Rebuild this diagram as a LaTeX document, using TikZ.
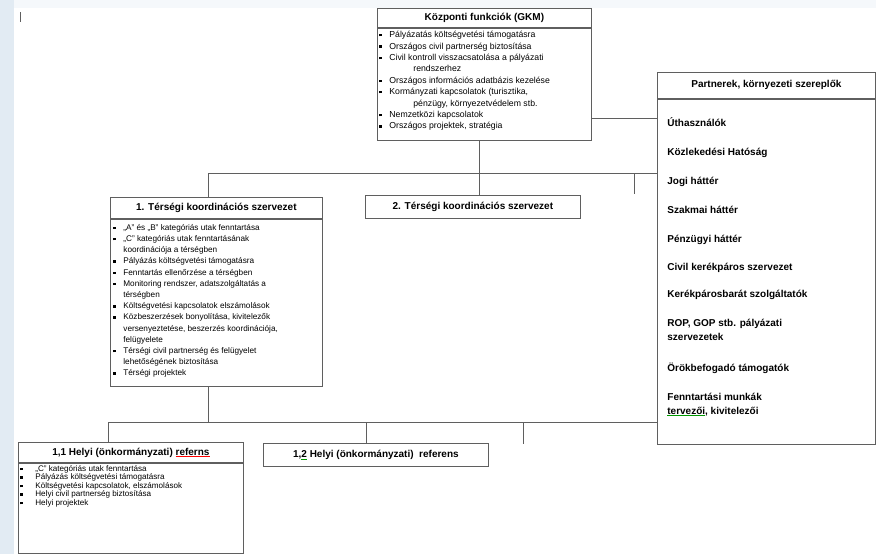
\documentclass[tikz,border=0pt]{standalone}
\usepackage{fontspec}
\setmainfont{Liberation Sans}
\usetikzlibrary{positioning}

\definecolor{linec}{RGB}{95,95,95}
\definecolor{paleblue}{RGB}{226,235,243}

% bullet and continuation indent for the lists
\newcommand{\bl}{\makebox[10pt][l]{\rule[0.25ex]{2.4pt}{2.4pt}}}
\newcommand{\cont}{\hspace*{10pt}}
% spell-check underline
\newcommand{\wavy}[2]{\setbox0\hbox{#2}\rlap{\color{#1}\rule[-2pt]{\wd0}{0.6pt}}\box0\relax}

\begin{document}
\begin{tikzpicture}[x=1pt, y=-1pt, line width=0.8pt,
    ttl/.style={draw=linec, anchor=north west, inner sep=0pt, font=\bfseries\fontsize{10}{12}\selectfont},
    bodybox/.style={draw=linec, inner sep=0pt},
    lst/.style={inner sep=0pt, align=left, anchor=north west, font=\fontsize{8.3}{11.5}\selectfont},
    items/.style={inner sep=0pt, align=left, anchor=north west, font=\bfseries\fontsize{10}{14}\selectfont},
    conn/.style={draw=linec}]
    \useasboundingbox (0,0) rectangle (876,554);

    % faded slide background
    \fill[paleblue] (0,0) rectangle (14,554);
    \fill[paleblue!35] (14,0) rectangle (876,8);
    \draw[linec, line width=1pt] (20,12) -- (20,22);

    % Kozponti funkciok
    \node[ttl, minimum width=214, minimum height=19] at (377,8) (gkmT) {Központi funkciók (GKM)};
    \node[bodybox, minimum width=214, minimum height=112, below right=0pt and 0pt of gkmT.south west] (gkmB) {};
    \node[lst, font=\fontsize{8.7}{11.4}\selectfont, below right=3pt and 2pt of gkmB.north west] (gkmL) {%
        \bl Pályázatás költségvetési támogatásra\\
        \bl Országos civil partnerség biztosítása\\
        \bl Civil kontroll visszacsatolása a pályázati\\
        \cont\hspace*{24pt}rendszerhez\\
        \bl Országos információs adatbázis kezelése\\
        \bl Kormányzati kapcsolatok (turisztika,\\
        \cont\hspace*{24pt}pénzügy, környezetvédelem stb.\\
        \bl Nemzetközi kapcsolatok\\
        \bl Országos projektek, stratégia};

    % Partnerek
    \node[ttl, minimum width=218, minimum height=26] at (657,72) (partT) {Partnerek, környezeti szereplők};
    \node[bodybox, minimum width=218, minimum height=345, below right=0pt and 0pt of partT.south west] (partB) {};
    \node[items, below right=18pt and 10pt of partB.north west] (partL) {%
        Úthasználók\\[15pt]
        Közlekedési Hatóság\\[15pt]
        Jogi háttér\\[15pt]
        Szakmai háttér\\[15pt]
        Pénzügyi háttér\\[14pt]
        Civil kerékpáros szervezet\\[13pt]
        Kerékpárosbarát szolgáltatók\\[15pt]
        ROP, GOP stb. pályázati\\
        szervezetek\\[17pt]
        Örökbefogadó támogatók\\[15pt]
        Fenntartási munkák\\
        \wavy{green!60!black}{tervezői}, kivitelezői};

    % 1. Tersegi koordinacios szervezet
    \node[ttl, minimum width=212, minimum height=21] at (110,197) (t1T) {1. Térségi koordinációs szervezet};
    \node[bodybox, minimum width=212, minimum height=167, below right=0pt and 0pt of t1T.south west] (t1B) {};
    \node[lst, font=\fontsize{8.2}{11.2}\selectfont, below right=5pt and 3pt of t1B.north west] (t1L) {%
        \bl „A” és „B” kategóriás utak fenntartása\\
        \bl „C” kategóriás utak fenntartásának\\
        \cont koordinációja a térségben\\
        \bl Pályázás költségvetési támogatásra\\
        \bl Fenntartás ellenőrzése a térségben\\
        \bl Monitoring rendszer, adatszolgáltatás a\\
        \cont térségben\\
        \bl Költségvetési kapcsolatok elszámolások\\
        \bl Közbeszerzések bonyolítása, kivitelezők\\
        \cont versenyeztetése, beszerzés koordinációja,\\
        \cont felügyelete\\
        \bl Térségi civil partnerség és felügyelet\\
        \cont lehetőségének biztosítása\\
        \bl Térségi projektek};

    % 2. Tersegi koordinacios szervezet
    \node[ttl, minimum width=215, minimum height=23] at (365,195) (t2) {2. Térségi koordinációs szervezet};

    % 1,1 Helyi referens
    \node[ttl, minimum width=225, minimum height=20] at (18,442) (h1T) {1,1 Helyi (önkormányzati) \wavy{red}{referns}};
    \node[bodybox, minimum width=225, minimum height=90, below right=0pt and 0pt of h1T.south west] (h1B) {};
    \node[lst, font=\fontsize{8.1}{8.6}\selectfont, below right=2pt and 2pt of h1B.north west] (h1L) {%
        \bl\hspace*{5pt}„C” kategóriás utak fenntartása\\
        \bl\hspace*{5pt}Pályázás költségvetési támogatásra\\
        \bl\hspace*{5pt}Költségvetési kapcsolatok, elszámolások\\
        \bl\hspace*{5pt}Helyi civil partnerség biztosítása\\
        \bl\hspace*{5pt}Helyi projektek};

    % 1,2 Helyi referens
    \node[ttl, minimum width=225, minimum height=23] at (263,443) (h2) {1,\wavy{green!60!black}{2} Helyi (önkormányzati)\ \ referens};

    % connectors
    \coordinate (hubA) at (479,173);
    \coordinate (busA) at (208,173);
    \coordinate (tickA) at (634,194);
    \coordinate (sideA) at (591,118);
    \coordinate (busB) at (208,422);
    \coordinate (busBL) at (108,422);
    \coordinate (dropB) at (366,422);
    \coordinate (tickB) at (523,444);

    \draw[conn] (gkmB.south -| hubA) -- (t2.north -| hubA);
    \draw[conn] (gkmB.east |- sideA) -- (sideA -| partB.west);
    \draw[conn] (t1T.north -| busA) -- (busA) -- (busA -| partB.west);
    \draw[conn] (tickA |- busA) -- (tickA);
    \draw[conn] (t1B.south -| busB) -- (busB);
    \draw[conn] (h1T.north -| busBL) -- (busBL) -- (busBL -| partB.west);
    \draw[conn] (dropB) -- (dropB |- h2.north);
    \draw[conn] (tickB |- busBL) -- (tickB);
\end{tikzpicture}
\end{document}
